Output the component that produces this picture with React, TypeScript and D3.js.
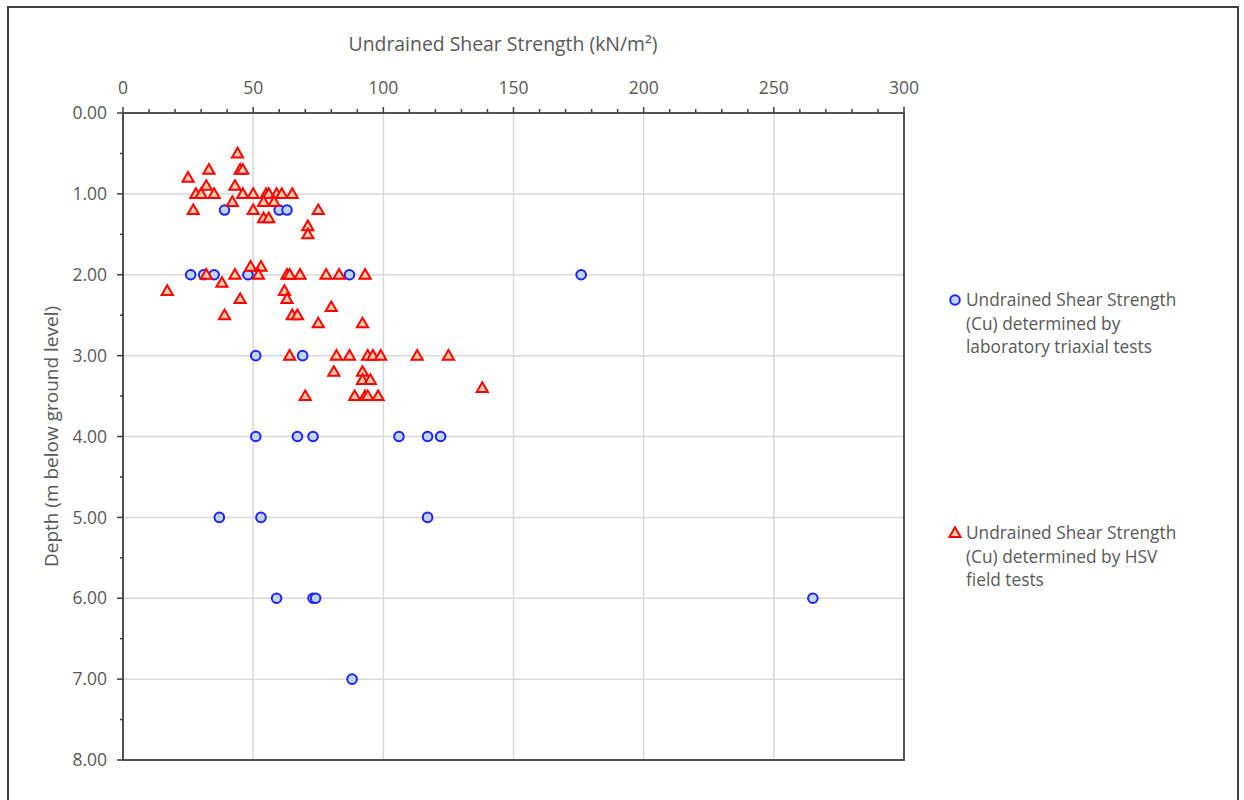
import React from "react";
import * as d3 from "d3";

// Laboratory triaxial tests: [Cu (kN/m²), depth (m)]
const triaxialCu = [39, 60, 63, 26, 31, 35, 48, 87, 176, 51, 69, 51, 67, 73, 106, 117, 122, 37, 53, 117, 59, 73, 74, 265, 88];
const triaxialDepth = [1.2, 1.2, 1.2, 2, 2, 2, 2, 2, 2, 3, 3, 4, 4, 4, 4, 4, 4, 5, 5, 5, 6, 6, 6, 6, 7];

// Hand shear vane field tests: [Cu (kN/m²), depth (m)]
const hsvCu = [
  44, 33, 45, 46, 25, 32, 43,
  28, 30, 35, 46, 50, 55, 56, 59, 61, 65,
  42, 54, 58,
  27, 50, 75,
  54, 56,
  71, 71,
  49, 53,
  32, 43, 52, 63, 64, 68, 78, 83, 93,
  38, 17, 62, 45, 63, 80,
  39, 65, 67, 75, 92,
  64, 82, 87, 94, 96, 99, 113, 125,
  81, 92, 92, 95, 138,
  70, 89, 93, 94, 98,
];
const hsvDepth = [
  0.5, 0.7, 0.7, 0.7, 0.8, 0.9, 0.9,
  1.0, 1.0, 1.0, 1.0, 1.0, 1.0, 1.0, 1.0, 1.0, 1.0,
  1.1, 1.1, 1.1,
  1.2, 1.2, 1.2,
  1.3, 1.3,
  1.4, 1.5,
  1.9, 1.9,
  2, 2, 2, 2, 2, 2, 2, 2, 2,
  2.1, 2.2, 2.2, 2.3, 2.3, 2.4,
  2.5, 2.5, 2.5, 2.6, 2.6,
  3, 3, 3, 3, 3, 3, 3, 3,
  3.2, 3.2, 3.3, 3.3, 3.4,
  3.5, 3.5, 3.5, 3.5, 3.5,
];

const xMajorTicks = [0, 50, 100, 150, 200, 250, 300];
const xMinorTicks = d3.range(0, 301, 10);
const yMajorTicks = [0, 1, 2, 3, 4, 5, 6, 7, 8];
const yMinorTicks = d3.range(0, 8.01, 0.5);

const xTitle = "Undrained Shear Strength (kN/m²)";
const yTitle = "Depth (m below ground level)";
const legendTriaxial = ["Undrained Shear Strength", "(Cu) determined by", "laboratory triaxial tests"];
const legendHsv = ["Undrained Shear Strength", "(Cu) determined by HSV", "field tests"];

const W = 1244;
const H = 800;
const FONT = "'Open Sans', sans-serif";
const TEXT = "#595959";
const AXIS = "#404040";
const GRID = "#d9d9d9";

const CIRCLE_FILL = "#bdd7ee";
const CIRCLE_STROKE = "#1f1fff";
const TRI_FILL = "#f8cbad";
const TRI_STROKE = "#ff0000";

const x = d3.scaleLinear().domain([0, 300]).range([123, 904]);
const y = d3.scaleLinear().domain([0, 8]).range([113, 760]);

const triPath = d3.symbol().type(d3.symbolTriangle).size(54)() as string;

function Circle({ cx, cy }: { cx: number; cy: number }) {
  return <circle cx={cx} cy={cy} r={4.8} fill={CIRCLE_FILL} stroke={CIRCLE_STROKE} strokeWidth={2} />;
}

function Tri({ cx, cy }: { cx: number; cy: number }) {
  return (
    <path
      d={triPath}
      transform={`translate(${cx},${cy + 0.8})`}
      fill={TRI_FILL}
      stroke={TRI_STROKE}
      strokeWidth={2}
      strokeLinejoin="miter"
    />
  );
}

export default function App() {
  const [x0, x1] = x.range();
  const [y0, y1] = y.range();
  return (
    <svg
      width={W}
      height={H}
      style={{ position: "absolute", left: 0, top: 0, background: "#fff" }}
      fontFamily={FONT}
    >
      <rect x={0} y={0} width={W} height={H} fill="#fff" />
      {/* outer chart frame */}
      <rect x={8} y={7} width={1230} height={900} fill="none" stroke={AXIS} strokeWidth={2} />

      {/* gridlines */}
      {xMajorTicks.slice(1, -1).map((t) => (
        <line key={`gx${t}`} x1={x(t)} x2={x(t)} y1={y0} y2={y1} stroke={GRID} strokeWidth={1.5} />
      ))}
      {yMajorTicks.slice(1, -1).map((t) => (
        <line key={`gy${t}`} x1={x0} x2={x1} y1={y(t)} y2={y(t)} stroke={GRID} strokeWidth={1.5} />
      ))}

      {/* plot border */}
      <rect x={x0} y={y0} width={x1 - x0} height={y1 - y0} fill="none" stroke={AXIS} strokeWidth={1.8} />

      {/* top x-axis ticks */}
      {xMinorTicks.map((t) => (
        <line
          key={`xt${t}`}
          x1={x(t)}
          x2={x(t)}
          y1={y0}
          y2={y0 - (t % 50 === 0 ? 6 : 4)}
          stroke={AXIS}
          strokeWidth={1.5}
        />
      ))}
      {xMajorTicks.map((t) => (
        <text key={`xl${t}`} x={x(t)} y={94} textAnchor="middle" fontSize={17.5} fill={TEXT}>
          {d3.format("d")(t)}
        </text>
      ))}

      {/* left y-axis ticks */}
      {yMinorTicks.map((t) => (
        <line
          key={`yt${t}`}
          x1={x0}
          x2={x0 - (Number.isInteger(t) ? 6 : 3)}
          y1={y(t)}
          y2={y(t)}
          stroke={AXIS}
          strokeWidth={1.5}
        />
      ))}
      {yMajorTicks.map((t) => (
        <text key={`yl${t}`} x={107} y={y(t)} dy="0.35em" textAnchor="end" fontSize={17.5} fill={TEXT}>
          {d3.format(".2f")(t)}
        </text>
      ))}

      {/* axis titles */}
      <text x={503} y={51} textAnchor="middle" fontSize={19.4} fill={TEXT}>
        {xTitle}
      </text>
      <text
        transform={`translate(58,${(y0 + y1) / 2}) rotate(-90)`}
        textAnchor="middle"
        fontSize={19}
        fill={TEXT}
      >
        {yTitle}
      </text>

      {/* data */}
      {triaxialCu.map((v, i) => (
        <Circle key={`c${i}`} cx={x(v)} cy={y(triaxialDepth[i])} />
      ))}
      {hsvCu.map((v, i) => (
        <Tri key={`t${i}`} cx={x(v)} cy={y(hsvDepth[i])} />
      ))}

      {/* legend */}
      <Circle cx={955} cy={300} />
      {legendTriaxial.map((s, i) => (
        <text key={`l1${i}`} x={966} y={300 + i * 23.5} dy="0.35em" fontSize={17.3} fill={TEXT}>
          {s}
        </text>
      ))}
      <Tri cx={955} cy={533} />
      {legendHsv.map((s, i) => (
        <text key={`l2${i}`} x={966} y={533 + i * 23.5} dy="0.35em" fontSize={17.3} fill={TEXT}>
          {s}
        </text>
      ))}
    </svg>
  );
}
